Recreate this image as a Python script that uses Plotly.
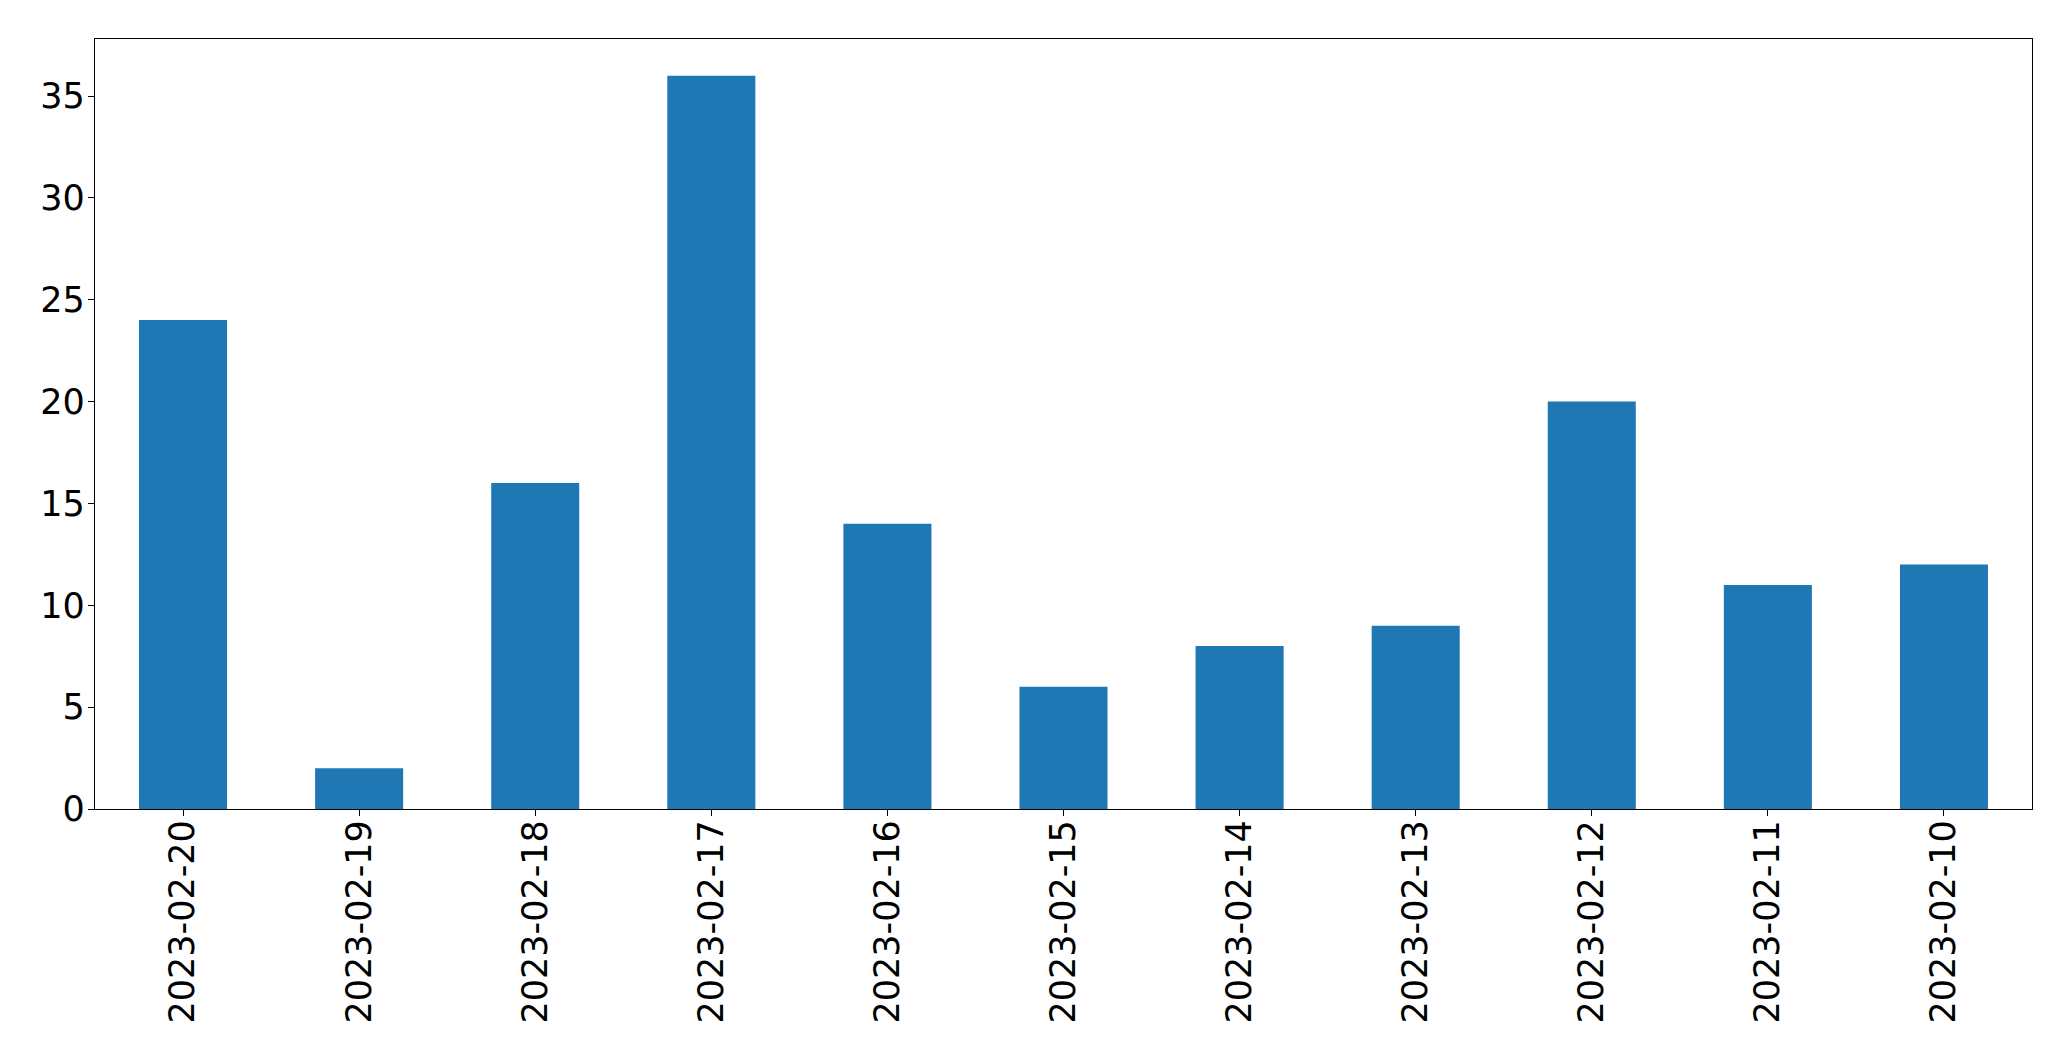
import plotly.graph_objects as go

dates = ["2023-02-20", "2023-02-19", "2023-02-18", "2023-02-17", "2023-02-16",
         "2023-02-15", "2023-02-14", "2023-02-13", "2023-02-12", "2023-02-11", "2023-02-10"]
counts = [24, 2, 16, 36, 14, 6, 8, 9, 20, 11, 12]
y_ticks = [0, 5, 10, 15, 20, 25, 30, 35]

fig = go.Figure(go.Bar(x=dates, y=counts, marker=dict(color="#1f77b4", line=dict(width=0)), width=0.5))

font = dict(family="DejaVu Sans", size=35, color="black")
fig.update_layout(
    width=2063, height=1053,
    margin=dict(l=87, r=39, t=31, b=252),
    paper_bgcolor="white", plot_bgcolor="white",
    showlegend=False,
    font=font,
)
fig.update_xaxes(
    type="category", range=[-0.5, 10.5], tickangle=-90, automargin=False,
    showline=True, linecolor="black", linewidth=1.3, mirror=True,
    ticks="outside", ticklen=6, tickcolor="black", tickwidth=1.3,
    showgrid=False, zeroline=False, tickfont=font, ticklabelstandoff=-10,
)
fig.update_yaxes(
    range=[0, 37.8], tickvals=y_ticks, automargin=False,
    showline=True, linecolor="black", linewidth=1.3, mirror=True,
    ticks="outside", ticklen=6, tickcolor="black", tickwidth=1.3,
    showgrid=False, zeroline=False, tickfont=font, ticklabelstandoff=-4,
)
fig.write_html("out.html")
